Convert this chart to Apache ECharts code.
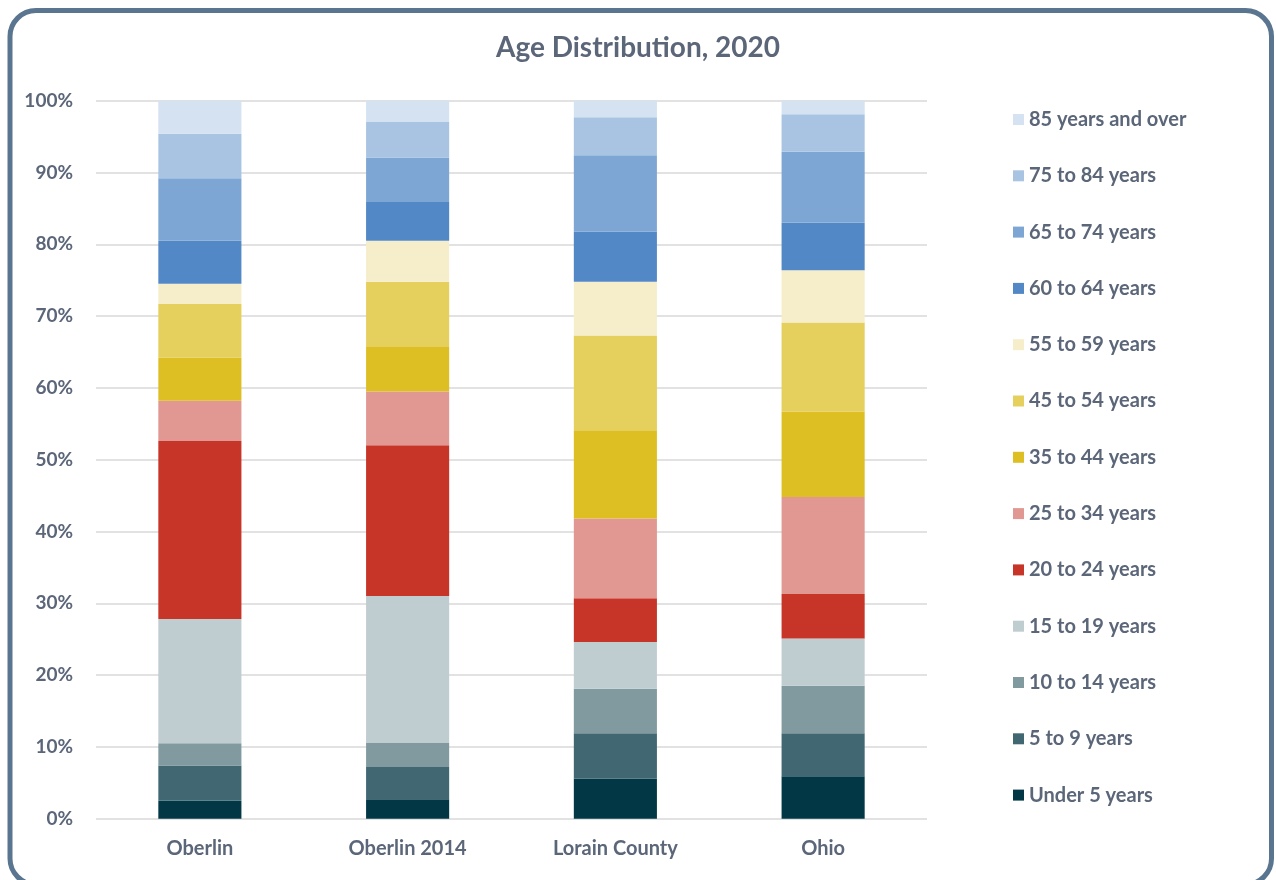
<!DOCTYPE html>
<html>
<head>
<meta charset="utf-8">
<title>Age Distribution, 2020</title>
<script src="https://cdn.jsdelivr.net/npm/echarts@6/dist/echarts.min.js"></script>
<style>
  html, body { margin: 0; padding: 0; background: #ffffff; }
  #chart { width: 1276px; height: 880px; }
</style>
</head>
<body>
<div id="chart"></div>
<script>
// Places compared
const categories = ['Oberlin', 'Oberlin 2014', 'Lorain County', 'Ohio'];

// Share of population (%) in each age group, per place
const under5    = [2.5, 2.7, 5.6, 5.9];
const age5to9   = [4.9, 4.5, 6.3, 6.0];
const age10to14 = [3.1, 3.4, 6.2, 6.6];
const age15to19 = [17.3, 20.4, 6.5, 6.6];
const age20to24 = [24.8, 21.0, 6.1, 6.2];
const age25to34 = [5.6, 7.5, 11.1, 13.5];
const age35to44 = [6.0, 6.3, 12.3, 11.9];
const age45to54 = [7.5, 9.0, 13.2, 12.4];
const age55to59 = [2.8, 5.7, 7.5, 7.3];
const age60to64 = [6.0, 5.4, 7.0, 6.6];
const age65to74 = [8.7, 6.2, 10.6, 9.9];
const age75to84 = [6.2, 5.0, 5.3, 5.2];
const age85plus = [4.6, 2.9, 2.3, 1.9];

// Series names, bottom of the stack first
const groupNames = [
  'Under 5 years', '5 to 9 years', '10 to 14 years', '15 to 19 years',
  '20 to 24 years', '25 to 34 years', '35 to 44 years', '45 to 54 years',
  '55 to 59 years', '60 to 64 years', '65 to 74 years', '75 to 84 years',
  '85 years and over'
];
const groupValues = [
  under5, age5to9, age10to14, age15to19, age20to24, age25to34, age35to44,
  age45to54, age55to59, age60to64, age65to74, age75to84, age85plus
];
const groupColors = [
  '#023846', '#416872', '#819AA0', '#BFCCD0', '#C73428', '#E19892', '#DDBF24',
  '#E5CF5D', '#F6EECA', '#5388C6', '#7EA6D4', '#A9C4E2', '#D4E2F1'
];

// Y axis tick settings
const yMin = 0;
const yMax = 100;
const yStep = 10;

const textColor = '#5B6679';
const fontFamily = 'Lato, "Open Sans", sans-serif';

const chart = echarts.init(document.getElementById('chart'), null, { renderer: 'canvas' });

const series = groupNames.map((name, i) => ({
  name: name,
  type: 'bar',
  stack: 'total',
  barWidth: '40%',
  data: groupValues[i],
  itemStyle: { color: groupColors[i] },
  emphasis: { disabled: true }
}));

chart.setOption({
  animation: false,
  backgroundColor: '#ffffff',
  textStyle: { fontFamily: fontFamily },
  graphic: [{
    type: 'rect',
    silent: true,
    z: 100,
    shape: { x: 10, y: 10.5, width: 1261.5, height: 874, r: 26 },
    style: { fill: 'none', stroke: '#5A7590', lineWidth: 5 }
  }],
  title: {
    text: 'Age Distribution, 2020',
    left: 'center',
    top: 29,
    textStyle: { color: textColor, fontSize: 28, fontWeight: 'bold', fontFamily: fontFamily }
  },
  legend: {
    orient: 'vertical',
    left: 1008,
    top: 103,
    icon: 'rect',
    itemWidth: 11,
    itemHeight: 11,
    itemGap: 33.3,
    data: groupNames.slice().reverse(),
    selectedMode: false,
    textStyle: { color: textColor, fontSize: 20, fontWeight: 'bold', lineHeight: 23, fontFamily: fontFamily }
  },
  grid: { left: 96, right: 349, top: 100.7, bottom: 61.3, containLabel: false },
  xAxis: {
    type: 'category',
    data: categories,
    axisLine: { show: false },
    axisTick: { show: false },
    axisLabel: { color: textColor, fontSize: 20, fontWeight: 'bold', margin: 20, fontFamily: fontFamily }
  },
  yAxis: {
    type: 'value',
    min: yMin,
    max: yMax,
    interval: yStep,
    axisLine: { show: false },
    axisTick: { show: false },
    splitLine: { show: true, lineStyle: { color: '#D9D9D9', width: 1.5 } },
    axisLabel: { formatter: '{value}%', color: textColor, fontSize: 19, fontWeight: 'bold', margin: 23, fontFamily: fontFamily }
  },
  series: series
});
</script>
</body>
</html>
